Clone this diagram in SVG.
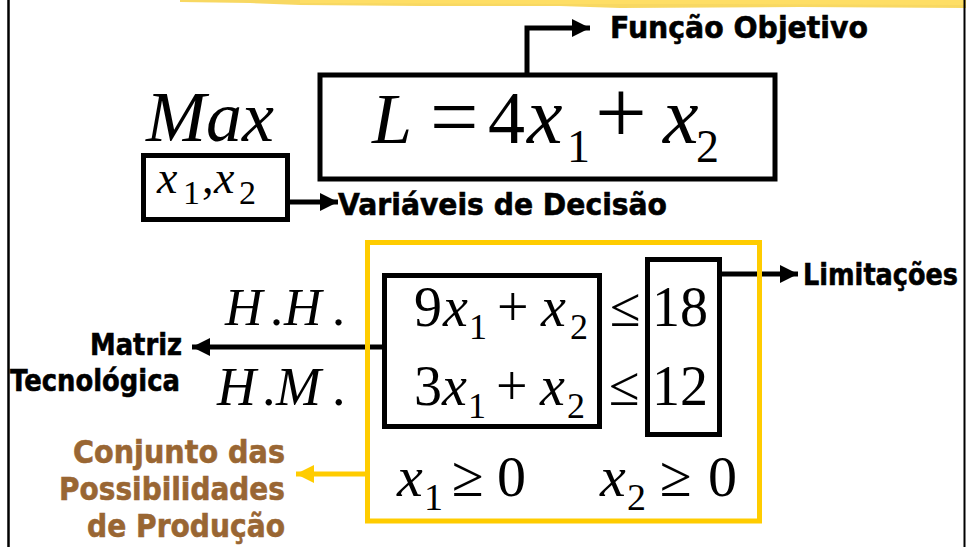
<svg xmlns="http://www.w3.org/2000/svg" width="966" height="547" viewBox="0 0 966 547">
<style>
.box{fill:none;stroke:#000;stroke-width:5}
.ybox{fill:none;stroke:#FFCC00;stroke-width:5}
.con{fill:none;stroke:#000;stroke-width:5}
.ycon{fill:none;stroke:#FFCC00;stroke-width:5}
.lbl{font-family:"DejaVu Sans","Liberation Sans",sans-serif;font-weight:bold;font-size:30px;fill:#000;stroke:#000;stroke-width:0.6}
.brown{font-family:"DejaVu Sans","Liberation Sans",sans-serif;font-weight:bold;font-size:32px;fill:#996633;stroke:#996633;stroke-width:0.6}
.m{font-family:"Liberation Serif","Times New Roman",serif;fill:#000}
.i{font-style:italic}
</style>
<defs>
<marker id="ah" markerUnits="userSpaceOnUse" markerWidth="18" markerHeight="18" refX="18" refY="9" orient="auto"><path d="M0,0 L18,9 L0,18 z" fill="#000"/></marker>
<marker id="yah" markerUnits="userSpaceOnUse" markerWidth="18" markerHeight="18" refX="18" refY="9" orient="auto"><path d="M0,0 L18,9 L0,18 z" fill="#FFCC00"/></marker>
</defs>
<g id="frame">
<path d="M180,0 L966,0 L966,8 L800,7 L620,8 L560,6 L420,6 L300,5 L250,3 L180,2 z" fill="#F5CB2E" opacity="0.75"/>
<path d="M300,0 L966,0 L966,5 L700,4 L560,4 L300,3 z" fill="#FFE066" opacity="0.8"/>
<line x1="8.5" y1="0" x2="8.5" y2="547" stroke="#000" stroke-width="2.5"/>
<line x1="964.5" y1="0" x2="964.5" y2="547" stroke="#000" stroke-width="2"/>
</g>
<g id="connectors">
<path class="con" d="M527,75 V28 H590" marker-end="url(#ah)"/>
<path class="con" d="M290,202 H338" marker-end="url(#ah)"/>
<path class="con" d="M722,274 H798" marker-end="url(#ah)"/>
<path class="con" d="M384,347 H192" marker-end="url(#ah)"/>
<path class="ycon" d="M367,474 H296" marker-end="url(#yah)"/>
</g>
<g id="max">
<text class="m i" x="146" y="141" font-size="72">Max</text>
</g>
<g id="objective">
<rect class="box" x="320" y="75" width="455" height="104"/>
<text class="m i" x="372" y="143" font-size="72">L</text>
<text class="m" x="430" y="146" font-size="86">=</text>
<text class="m" x="488" y="143" font-size="74">4</text>
<text class="m i" x="527" y="143" font-size="80">x</text>
<text class="m" x="567" y="162" font-size="46">1</text>
<text class="m" x="595" y="143" font-size="92">+</text>
<text class="m i" x="663" y="143" font-size="80">x</text>
<text class="m" x="696" y="162" font-size="46">2</text>
</g>
<g id="variables">
<rect class="box" x="143.5" y="155.5" width="144" height="64"/>
<text class="m i" x="157" y="193" font-size="46">x</text>
<text class="m" x="183" y="204" font-size="34">1</text>
<text class="m" x="202" y="193" font-size="46">,</text>
<text class="m i" x="214" y="193" font-size="46">x</text>
<text class="m" x="239" y="204" font-size="34">2</text>
</g>
<g id="lbl-funcao"><text class="lbl" x="610" y="38" textLength="258" lengthAdjust="spacingAndGlyphs">Função Objetivo</text></g>
<g id="lbl-variaveis"><text class="lbl" x="338" y="215" textLength="329" lengthAdjust="spacingAndGlyphs">Variáveis de Decisão</text></g>
<g id="lbl-limitacoes"><text class="lbl" x="803" y="285" textLength="155" lengthAdjust="spacingAndGlyphs">Limitações</text></g>
<g id="lbl-matriz">
<text class="lbl" x="90" y="355" font-size="29" textLength="92" lengthAdjust="spacingAndGlyphs">Matriz</text>
<text class="lbl" x="10" y="391" font-size="29" textLength="170" lengthAdjust="spacingAndGlyphs">Tecnológica</text>
</g>
<g id="lbl-conjunto">
<text class="brown" x="73" y="463" textLength="212" lengthAdjust="spacingAndGlyphs">Conjunto das</text>
<text class="brown" x="59" y="500" textLength="226" lengthAdjust="spacingAndGlyphs">Possibilidades</text>
<text class="brown" x="87" y="537" textLength="198" lengthAdjust="spacingAndGlyphs">de Produção</text>
</g>
<g id="hh">
<text class="m i" x="225" y="325" font-size="52">H</text>
<text class="m" x="270" y="325" font-size="52">.</text>
<text class="m i" x="284" y="325" font-size="52">H</text>
<text class="m" x="332" y="325" font-size="52">.</text>
</g>
<g id="hm">
<text class="m i" x="217" y="405" font-size="54">H</text>
<text class="m" x="262" y="405" font-size="54">.</text>
<text class="m i" x="276" y="405" font-size="54">M</text>
<text class="m" x="332" y="405" font-size="54">.</text>
</g>
<g id="constraints-set">
<rect class="ybox" x="367.5" y="242.5" width="392" height="278.5"/>
</g>
<g id="matrix">
<rect class="box" x="384.5" y="275.5" width="215" height="151"/>
<text class="m" x="414" y="326" font-size="56">9</text>
<text class="m i" x="443" y="326" font-size="56">x</text>
<text class="m" x="469" y="339" font-size="36">1</text>
<text class="m" x="497" y="326" font-size="56">+</text>
<text class="m i" x="541" y="326" font-size="56">x</text>
<text class="m" x="570" y="339" font-size="36">2</text>
<text class="m" x="414" y="405" font-size="56">3</text>
<text class="m i" x="442" y="405" font-size="56">x</text>
<text class="m" x="468" y="418" font-size="36">1</text>
<text class="m" x="496" y="405" font-size="56">+</text>
<text class="m i" x="540" y="405" font-size="56">x</text>
<text class="m" x="567" y="418" font-size="36">2</text>
<text class="m" x="610" y="326" font-size="56">≤</text>
<text class="m" x="609" y="405" font-size="56">≤</text>
</g>
<g id="limits">
<rect class="box" x="647.5" y="259.5" width="72" height="175"/>
<text class="m" x="652" y="326" font-size="56">18</text>
<text class="m" x="652" y="405" font-size="56">12</text>
</g>
<g id="nonneg">
<text class="m i" x="397" y="496" font-size="58">x</text>
<text class="m" x="424" y="510" font-size="38">1</text>
<text class="m" x="452" y="496" font-size="58">≥</text>
<text class="m" x="497" y="496" font-size="58">0</text>
<text class="m i" x="600" y="496" font-size="58">x</text>
<text class="m" x="627" y="510" font-size="38">2</text>
<text class="m" x="660" y="496" font-size="58">≥</text>
<text class="m" x="708" y="496" font-size="58">0</text>
</g>
</svg>
